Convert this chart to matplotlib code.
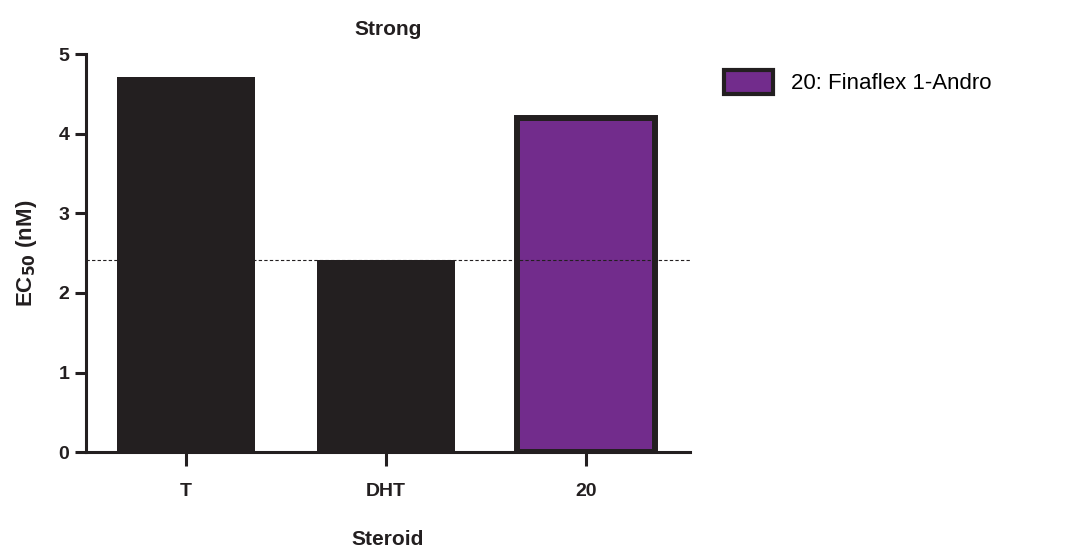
import matplotlib
matplotlib.use("Agg")
import matplotlib.pyplot as plt
from matplotlib.patches import Patch

plt.rcParams['font.family'] = ['Liberation Sans', 'DejaVu Sans']

steroids = ["T", "DHT", "20"]
ec50_nm = [4.71, 2.41, 4.20]
reference_level = 2.41
legend_label = "20: Finaflex 1-Andro"

dark = "#231F20"
purple = "#722C8C"
fills = [dark, dark, purple]
edges = [dark, dark, dark]
widths = [0, 0, 4.3]

fig = plt.figure(figsize=(10.88, 5.54), dpi=100)
ax = fig.add_axes([0.079, 0.184, 0.555, 0.718])

x = list(range(len(steroids)))
for xi, v, fc, ec, lw in zip(x, ec50_nm, fills, edges, widths):
    ax.bar(xi, v, width=0.69, color=fc, edgecolor=ec, linewidth=lw, zorder=2)

ax.axhline(reference_level, color=dark, linestyle=(0, (3, 2)), linewidth=0.8, zorder=3)

ax.set_xlim(-0.5, 2.52)
ax.set_ylim(0, 5)
ax.set_xticks(x)
ax.set_xticklabels(steroids, fontsize=14, fontweight='bold', color=dark)
ax.set_yticks(range(0, 6))
ax.set_yticklabels([str(i) for i in range(0, 6)], fontsize=14, fontweight='bold', color=dark)

for side in ("top", "right"):
    ax.spines[side].set_visible(False)
for side in ("left", "bottom"):
    ax.spines[side].set_linewidth(2.2)
    ax.spines[side].set_color(dark)
ax.tick_params(axis='y', length=8, width=2.2, color=dark, pad=4)
ax.tick_params(axis='x', length=10, width=2.2, color=dark, pad=12)

ax.set_title("Strong", fontsize=15, fontweight='bold', color=dark, pad=14)
ax.set_xlabel("Steroid", fontsize=15, fontweight='bold', color=dark, labelpad=22)
ax.set_ylabel(r"EC$_{\mathbf{50}}$ (nM)", fontsize=16, fontweight='bold', color=dark, labelpad=14)

handle = Patch(facecolor=purple, edgecolor=dark, linewidth=3)
fig.legend([handle], [legend_label], loc='upper left', bbox_to_anchor=(0.647, 0.91),
           frameon=False, fontsize=16, handlelength=2.2, handleheight=1.3, handletextpad=0.8)

fig.savefig("out.png", dpi=100)
